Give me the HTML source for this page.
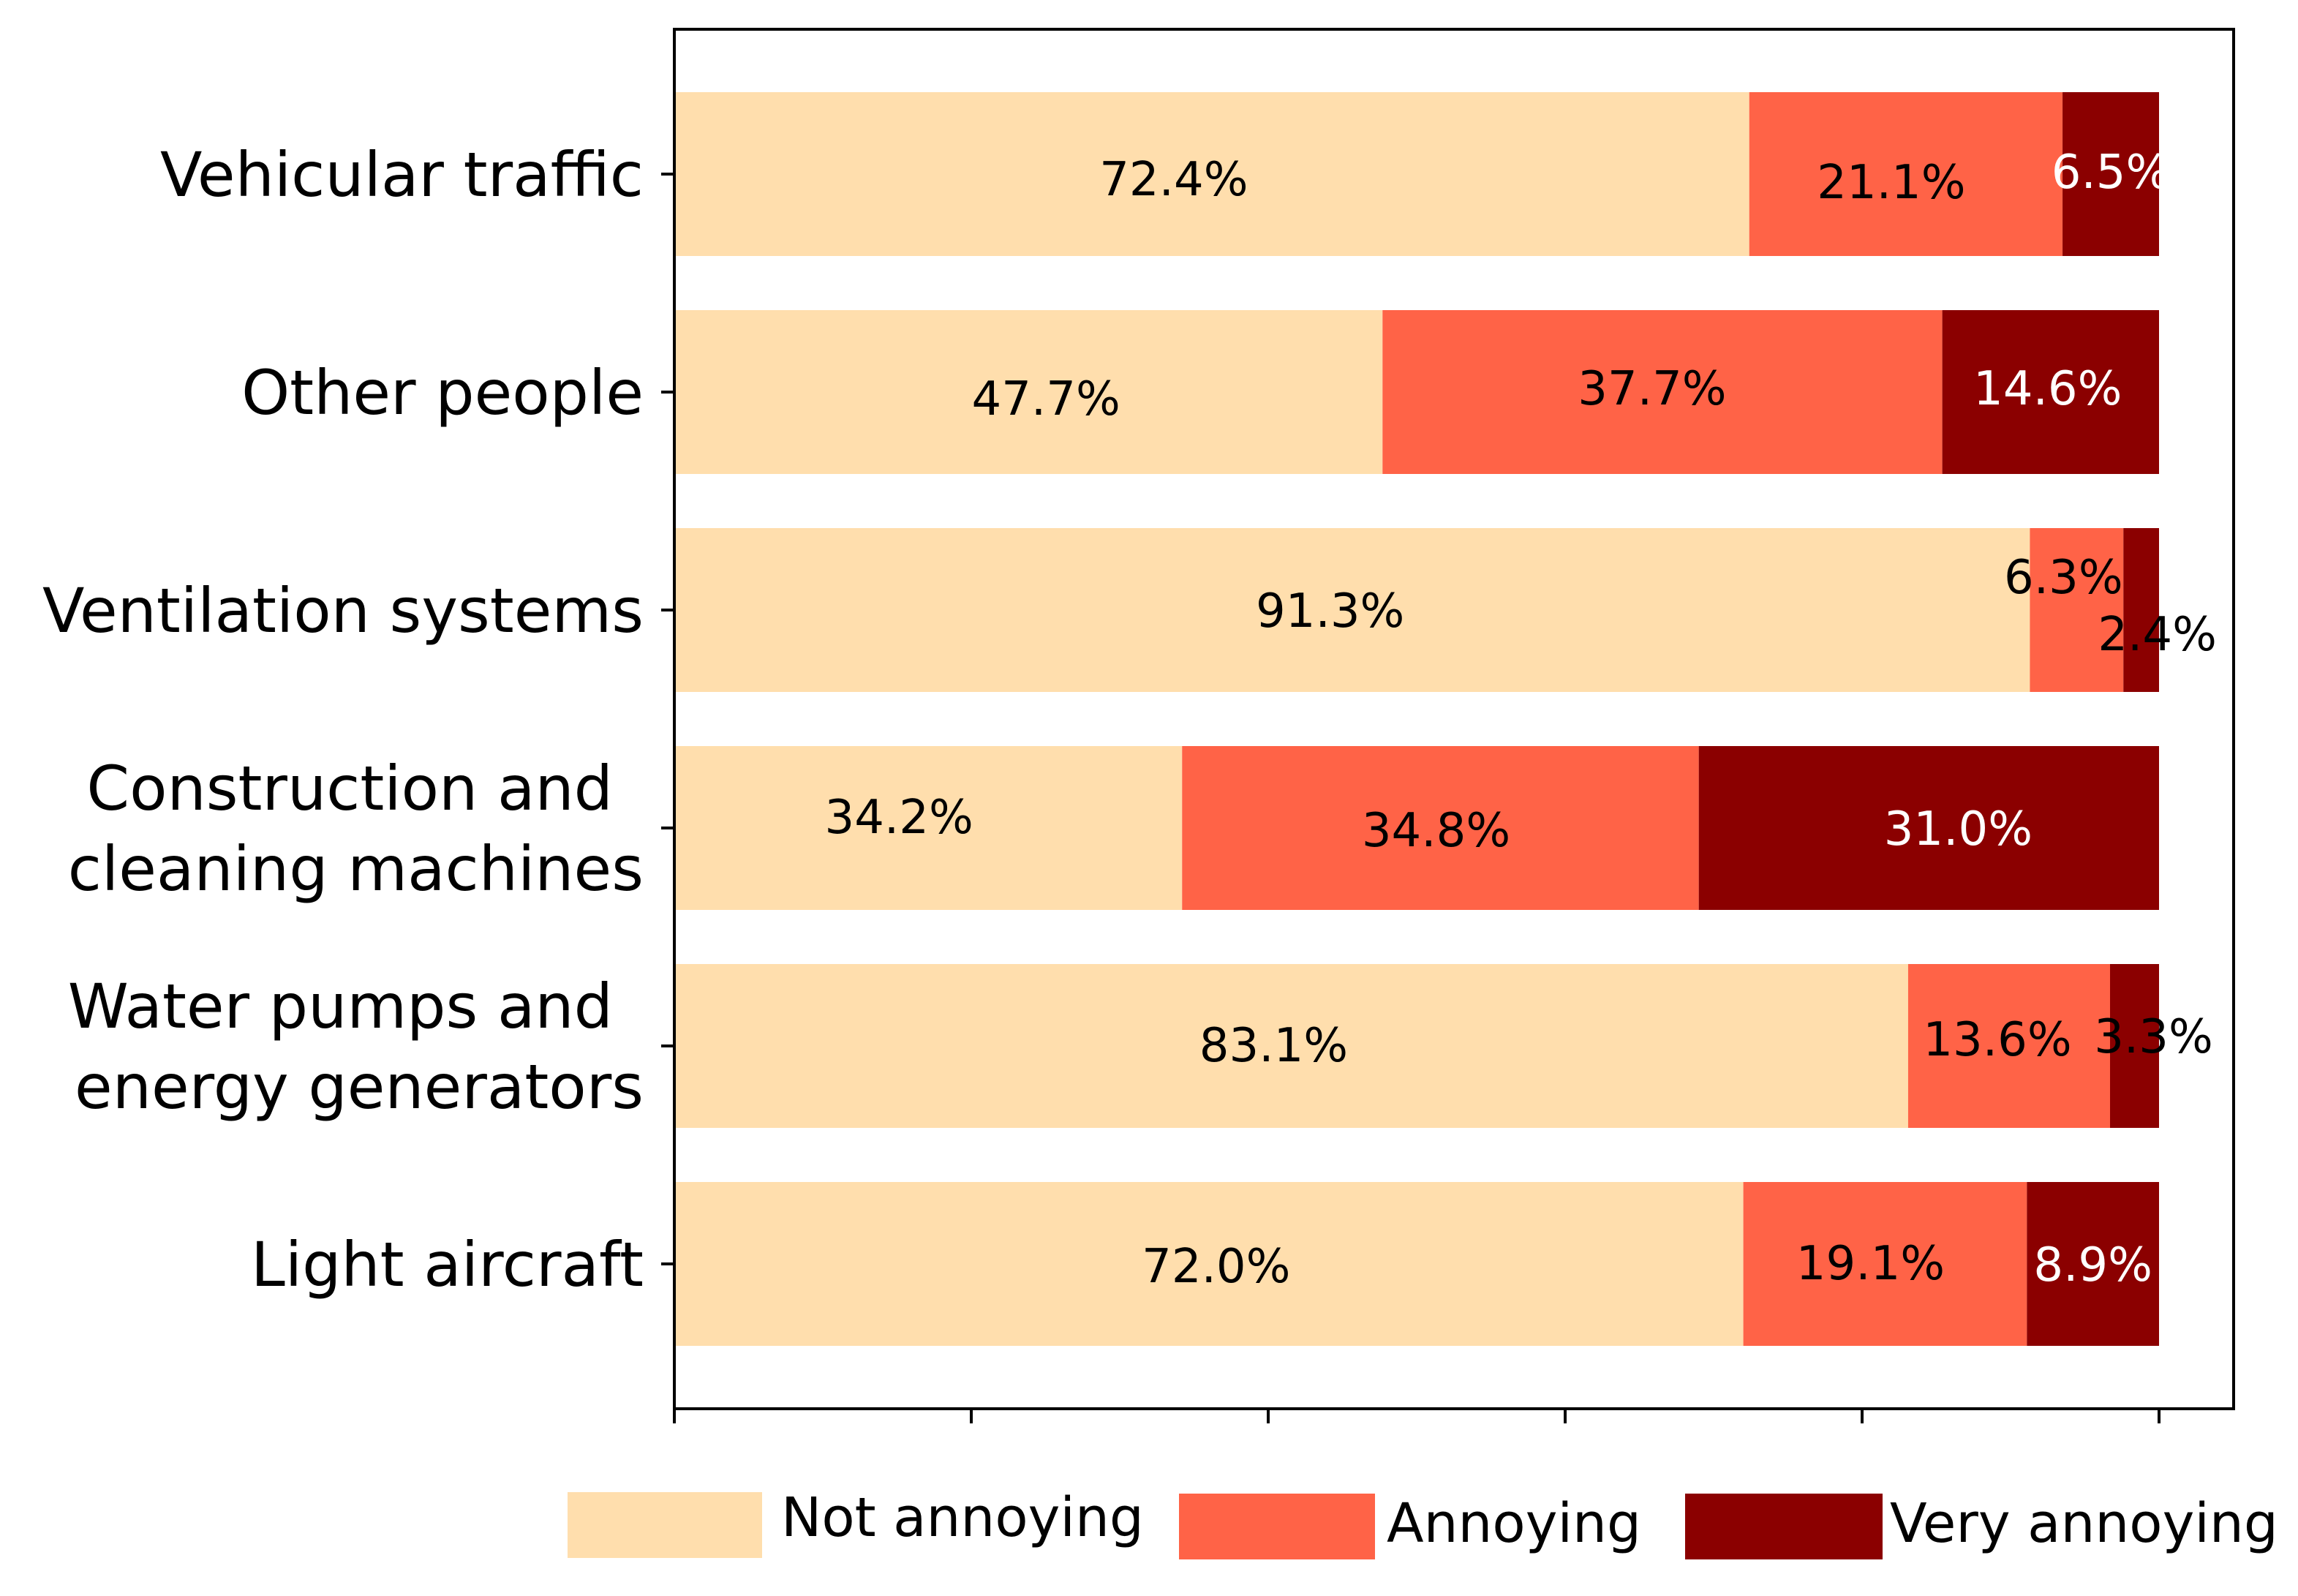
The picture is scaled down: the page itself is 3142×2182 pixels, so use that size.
<!DOCTYPE html>
<html><head><meta charset="utf-8">
<style>
html,body{margin:0;padding:0;background:#fff;}
svg{display:block;}
.cat{font-family:"DejaVu Sans","Liberation Sans",sans-serif;font-size:84px;fill:#000;}
.pct{font-family:"DejaVu Sans","Liberation Sans",sans-serif;font-size:64px;}
.leg{font-family:"DejaVu Sans","Liberation Sans",sans-serif;font-size:74px;fill:#000;}
</style></head>
<body>
<svg id="chart" width="3142" height="2182" viewBox="0 0 3142 2182" xmlns="http://www.w3.org/2000/svg">
<rect x="0" y="0" width="3142" height="2182" fill="#fff"/>
<g id="bars"></g>
<g id="labels"></g>
<g id="yaxis"></g>
<g id="xaxis"></g>
<rect x="922" y="40" width="2132" height="1886" fill="none" stroke="#000" stroke-width="4"/>
<g>
  <g>
    <rect x="776" y="2040" width="266" height="90" fill="#FFDEAD"/>
    <text class="leg" x="1068" y="2100">Not annoying</text>
  </g>
  <g>
    <rect x="1612" y="2042" width="268" height="90" fill="#FF6347"/>
    <text class="leg" x="1896" y="2108">Annoying</text>
  </g>
  <g>
    <rect x="2304" y="2042" width="270" height="90" fill="#8B0000"/>
    <text class="leg" x="2584" y="2108">Very annoying</text>
  </g>
</g>
</svg>
<script>
const categories = ["Vehicular traffic","Other people","Ventilation systems","Construction and cleaning machines","Water pumps and energy generators","Light aircraft"];
const notAnnoying = [72.4, 47.7, 91.3, 34.2, 83.1, 72.0];
const annoying = [21.1, 37.7, 6.3, 34.8, 13.6, 19.1];
const veryAnnoying = [6.5, 14.6, 2.4, 31.0, 3.3, 8.9];
const xTicks = [0, 20, 40, 60, 80, 100];

const NS = "http://www.w3.org/2000/svg";
const X0 = 922, X1 = 2952, Y0 = 238, STEP = 298, BH = 224;
// small label nudges (px) per row, per segment
const nudgeX = [[-52,-20,0],[24,-14,-4],[-30,-18,22],[-40,-6,40],[-24,-16,26],[10,-20,0]];
const nudgeY = [[6,10,-4],[8,-6,-6],[0,-46,32],[-16,2,0],[-2,-10,-14],[2,-2,0]];
function xScale(v){ return X0 + (X1 - X0) * v / 100; }
function yScale(i){ return Y0 + STEP * i; }
function mk(tag, attrs, parent){
  const el = document.createElementNS(NS, tag);
  for (const k in attrs) el.setAttribute(k, attrs[k]);
  parent.appendChild(el);
  return el;
}
const barsG = document.getElementById('bars');
const labG = document.getElementById('labels');
const yG = document.getElementById('yaxis');
const xG = document.getElementById('xaxis');
const series = [
  {vals: notAnnoying, color: "#FFDEAD", text: "#000", key: "not-annoying"},
  {vals: annoying, color: "#FF6347", text: "#000", key: "annoying"},
  {vals: veryAnnoying, color: "#8B0000", text: "#fff", key: "very-annoying"}
];
categories.forEach((cat, i) => {
  const yc = yScale(i);
  let acc = 0;
  series.forEach((s, j) => {
    const v = s.vals[i];
    const xa = xScale(acc), xb = xScale(acc + v);
    const r = mk('rect', {x: xa, y: yc - BH/2, width: xb - xa, height: BH, fill: s.color}, barsG);
    
    
    const t = mk('text', {x: (xa + xb)/2 + nudgeX[i][j], y: yc + 23 + nudgeY[i][j], 'text-anchor': 'middle', fill: (xb - xa) < 80 ? '#000' : s.text, class: 'pct'}, labG);
    t.textContent = v.toFixed(1) + '%';
    
    
    acc += v;
  });
  const tk = mk('line', {x1: X0 - 18, x2: X0, y1: yc, y2: yc, stroke: '#000', 'stroke-width': 4}, yG);
  
  
  const words = cat.split(' ');
  let lines = [cat];
  if (cat.length > 22) { const h = words.indexOf('and') + 1; lines = [words.slice(0, h).join(' '), words.slice(h).join(' ')]; }
  lines.forEach((ln, j) => {
    const off = lines.length === 1 ? 0 : (j === 0 ? -55 : 55);
    const xEnd = (lines.length > 1 && j === 0) ? 838 : 880;
    const t = mk('text', {x: xEnd, y: yc + off + 30, 'text-anchor': 'end', class: 'cat'}, yG);
    t.textContent = ln;
    
    
  });
});
xTicks.forEach((v) => {
  const l = mk('line', {x1: xScale(v), x2: xScale(v), y1: 1926, y2: 1946, stroke: '#000', 'stroke-width': 4}, xG);
  
  
});
</script>
</body></html>
